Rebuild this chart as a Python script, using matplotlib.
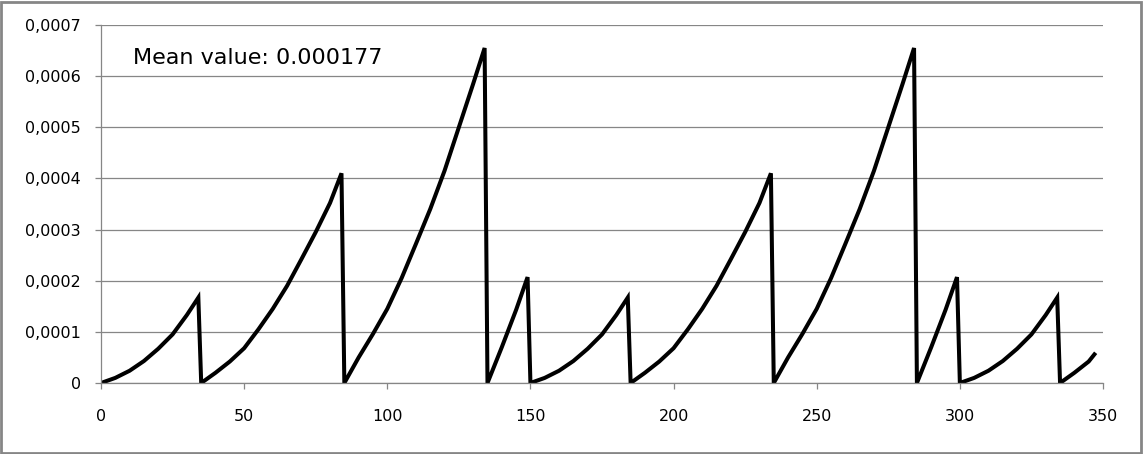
import numpy as np
import matplotlib
matplotlib.use('Agg')
import matplotlib.pyplot as plt
from matplotlib.ticker import FuncFormatter, MultipleLocator
from matplotlib.patches import Rectangle

# values (y in millionths)
x_vals = [0, 5, 10, 15, 20, 25, 30, 34,
          35, 40, 45, 50, 55, 60, 65, 70, 75, 80, 84,
          85, 90, 95, 100, 105, 110, 115, 120, 125, 130, 134,
          135, 140, 145, 149,
          150, 155, 160, 165, 170, 175, 180, 184,
          185, 190, 195, 200, 205, 210, 215, 220, 225, 230, 234,
          235, 240, 245, 250, 255, 260, 265, 270, 275, 280, 284,
          285, 290, 295, 299,
          300, 305, 310, 315, 320, 325, 330, 334,
          335, 340, 345, 347]
y_micro = [0, 10, 24, 43, 67, 95, 133, 167,
           0, 20, 42, 68, 105, 145, 190, 242, 295, 352, 410,
           0, 50, 96, 145, 205, 272, 340, 415, 500, 585, 655,
           0, 70, 143, 207,
           0, 10, 24, 43, 67, 95, 133, 167,
           0, 20, 42, 68, 105, 145, 190, 242, 295, 352, 410,
           0, 50, 96, 145, 205, 272, 340, 415, 500, 585, 655,
           0, 70, 143, 207,
           0, 10, 24, 43, 67, 95, 133, 167,
           0, 20, 42, 56]
y_vals = np.array(y_micro) * 1e-6
mean_label = "Mean value: 0.000177"

W, H = 1143, 454
fig = plt.figure(figsize=(W / 100, H / 100), dpi=100)
ax = fig.add_axes([101 / W, 1 - 383 / H, (1103 - 101) / W, (383 - 25) / H])

grid_col = '#868686'
ax.plot(x_vals, y_vals, color='black', linewidth=2.9, solid_joinstyle='miter')

ax.set_xlim(0, 350)
ax.set_ylim(0, 0.0007)
ax.xaxis.set_major_locator(MultipleLocator(50))
ax.yaxis.set_major_locator(MultipleLocator(0.0001))
ax.yaxis.set_major_formatter(FuncFormatter(
    lambda v, p: '0' if abs(v) < 1e-12 else f"{v:.4f}".replace('.', ',')))

ax.grid(axis='y', color=grid_col, linewidth=0.9)
ax.set_axisbelow(True)
for s in ['top', 'right']:
    ax.spines[s].set_visible(False)
for s in ['left', 'bottom']:
    ax.spines[s].set_color(grid_col)
    ax.spines[s].set_linewidth(0.9)
ax.tick_params(axis='both', direction='out', length=4.5, width=0.9,
               color=grid_col, labelsize=11.5, labelcolor='black')
ax.tick_params(axis='y', pad=10)
ax.tick_params(axis='x', pad=14)

fig.text(132.7 / W, 1 - 64.3 / H, mean_label, fontsize=16, va='baseline', ha='left')

# outer chart frame
fig.patches.append(Rectangle((1 / W, 1 / H), (W - 3) / W, (H - 3) / H,
                             transform=fig.transFigure, fill=False,
                             edgecolor='#868686', linewidth=2))

fig.savefig('out.png', dpi=100)
